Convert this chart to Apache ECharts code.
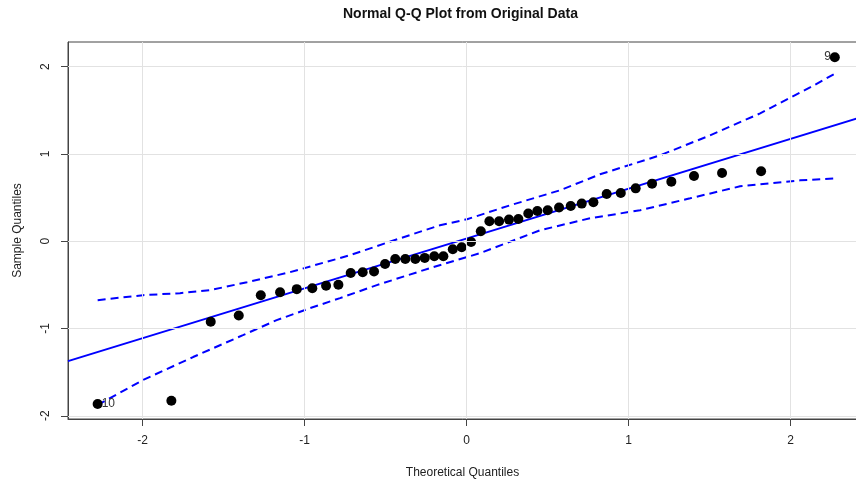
<!DOCTYPE html>
<html><head><meta charset="utf-8">
<script src="https://cdn.jsdelivr.net/npm/echarts@6/dist/echarts.min.js"></script>
<style>html,body{margin:0;padding:0;background:#fff}#c{width:856px;height:482px}</style>
</head><body><div id="c"></div>
<script>
const chartTitle = 'Normal Q-Q Plot from Original Data';
const xName = 'Theoretical Quantiles';
const yName = 'Sample Quantiles';
const xTicks = [-2, -1, 0, 1, 2];
const yTicks = [-2, -1, 0, 1, 2];
const xMin = -2.46, xMax = 2.41, yMin = -2.037, yMax = 2.283;

const theoretical = [-2.277, -1.822, -1.579, -1.406, -1.270, -1.151, -1.048, -0.952, -0.867, -0.791,
  -0.715, -0.641, -0.571, -0.503, -0.440, -0.378, -0.316, -0.258, -0.199, -0.143,
  -0.085, -0.030, 0.028, 0.088, 0.141, 0.201, 0.262, 0.320, 0.381, 0.437,
  0.501, 0.571, 0.643, 0.711, 0.783, 0.865, 0.952, 1.044, 1.145, 1.264,
  1.404, 1.577, 1.818, 2.273];
const sample = [-1.865, -1.827, -0.923, -0.850, -0.618, -0.584, -0.549, -0.538, -0.511, -0.498,
  -0.363, -0.355, -0.347, -0.260, -0.203, -0.203, -0.203, -0.191, -0.172, -0.172,
  -0.092, -0.069, -0.008, 0.114, 0.229, 0.229, 0.248, 0.255, 0.317, 0.347,
  0.355, 0.386, 0.404, 0.431, 0.446, 0.541, 0.553, 0.606, 0.660, 0.683,
  0.747, 0.781, 0.801, 2.109];

const lineIntercept = 0.031;
const lineSlope = 0.571;

const upperX = [-2.277, -1.997, -1.769, -1.583, -1.355, -1.090, -0.719, -0.410, -0.164, 0.003, 0.269, 0.577, 0.824, 1.194, 1.503, 1.812, 2.120, 2.275];
const upperY = [-0.675, -0.618, -0.595, -0.561, -0.469, -0.355, -0.160, 0.034, 0.183, 0.252, 0.412, 0.584, 0.767, 0.984, 1.213, 1.465, 1.762, 1.922];
const lowerX = [-2.277, -1.997, -1.688, -1.380, -1.172, -0.966, -0.781, -0.554, -0.207, 0.083, 0.454, 0.762, 1.071, 1.380, 1.688, 2.059, 2.275];
const lowerY = [-1.876, -1.590, -1.327, -1.076, -0.904, -0.767, -0.652, -0.503, -0.297, -0.137, 0.126, 0.263, 0.355, 0.492, 0.629, 0.698, 0.721];

const labelIndex = [0, 43];
const labelText = ['10', '9'];
const labelSide = ['right', 'left'];

const FONT = '"Liberation Sans", Arial, sans-serif';
const chart = echarts.init(document.getElementById('c'), null, {renderer: 'canvas'});

const scatterData = theoretical.map((x, i) => {
  const item = {value: [x, sample[i]]};
  const k = labelIndex.indexOf(i);
  if (k >= 0) {
    item.label = {show: true, formatter: labelText[k], position: labelSide[k], distance: -1,
      color: '#333', fontSize: 12, fontFamily: FONT};
  }
  return item;
});

const option = {
  animation: false,
  backgroundColor: '#fff',
  title: {text: chartTitle, left: 338, top: 2,
    textStyle: {fontFamily: FONT, fontWeight: 'bold', fontSize: 14, color: '#111'}},
  grid: {left: 68, top: 42, right: -1, bottom: 63, outerBoundsMode: 'none', containLabel: false,
    show: true, borderColor: '#444', borderWidth: 1, backgroundColor: 'transparent'},
  xAxis: {
    type: 'value', min: xMin, max: xMax,
    name: xName, nameLocation: 'middle', nameGap: 48,
    nameTextStyle: {fontFamily: FONT, fontSize: 12, color: '#222'},
    axisLine: {show: true, onZero: false, lineStyle: {color: '#444', width: 1}},
    axisTick: {show: true, length: 7, customValues: xTicks, lineStyle: {color: '#444'}},
    axisLabel: {customValues: xTicks, formatter: v => String(v), margin: 16, fontFamily: FONT, fontSize: 12, color: '#222'},
    splitLine: {show: false}
  },
  yAxis: {
    type: 'value', min: yMin, max: yMax,
    name: yName, nameLocation: 'middle', nameGap: 44,
    nameTextStyle: {fontFamily: FONT, fontSize: 12, color: '#222'},
    axisLine: {show: true, onZero: false, lineStyle: {color: '#444', width: 1}},
    axisTick: {show: true, length: 7, customValues: yTicks, lineStyle: {color: '#444'}},
    axisLabel: {customValues: yTicks, formatter: v => String(v), rotate: 90, margin: 16, fontFamily: FONT, fontSize: 12, color: '#222'},
    splitLine: {show: false}
  },
  series: [
    {
      type: 'line', data: [], z: 1, silent: true,
      markLine: {
        silent: true, symbol: 'none', label: {show: false}, animation: false,
        lineStyle: {color: '#e2e2e2', type: 'solid', width: 1},
        data: xTicks.map(v => ({xAxis: v})).concat(yTicks.map(v => ({yAxis: v})))
      }
    },
    {
      type: 'line', z: 3, showSymbol: false, silent: true,
      lineStyle: {color: '#0000ff', width: 2},
      data: [[xMin, lineIntercept + lineSlope * xMin], [xMax, lineIntercept + lineSlope * xMax]]
    },
    {
      type: 'line', z: 3, showSymbol: false, silent: true,
      lineStyle: {color: '#0000ff', width: 2, type: [8, 5]},
      data: upperX.map((x, i) => [x, upperY[i]])
    },
    {
      type: 'line', z: 3, showSymbol: false, silent: true,
      lineStyle: {color: '#0000ff', width: 2, type: [8, 5]},
      data: lowerX.map((x, i) => [x, lowerY[i]])
    },
    {
      type: 'scatter', z: 4, symbol: 'circle', symbolSize: 10,
      itemStyle: {color: '#000', opacity: 1},
      data: scatterData
    }
  ]
};
chart.setOption(option);
</script>
</body></html>
